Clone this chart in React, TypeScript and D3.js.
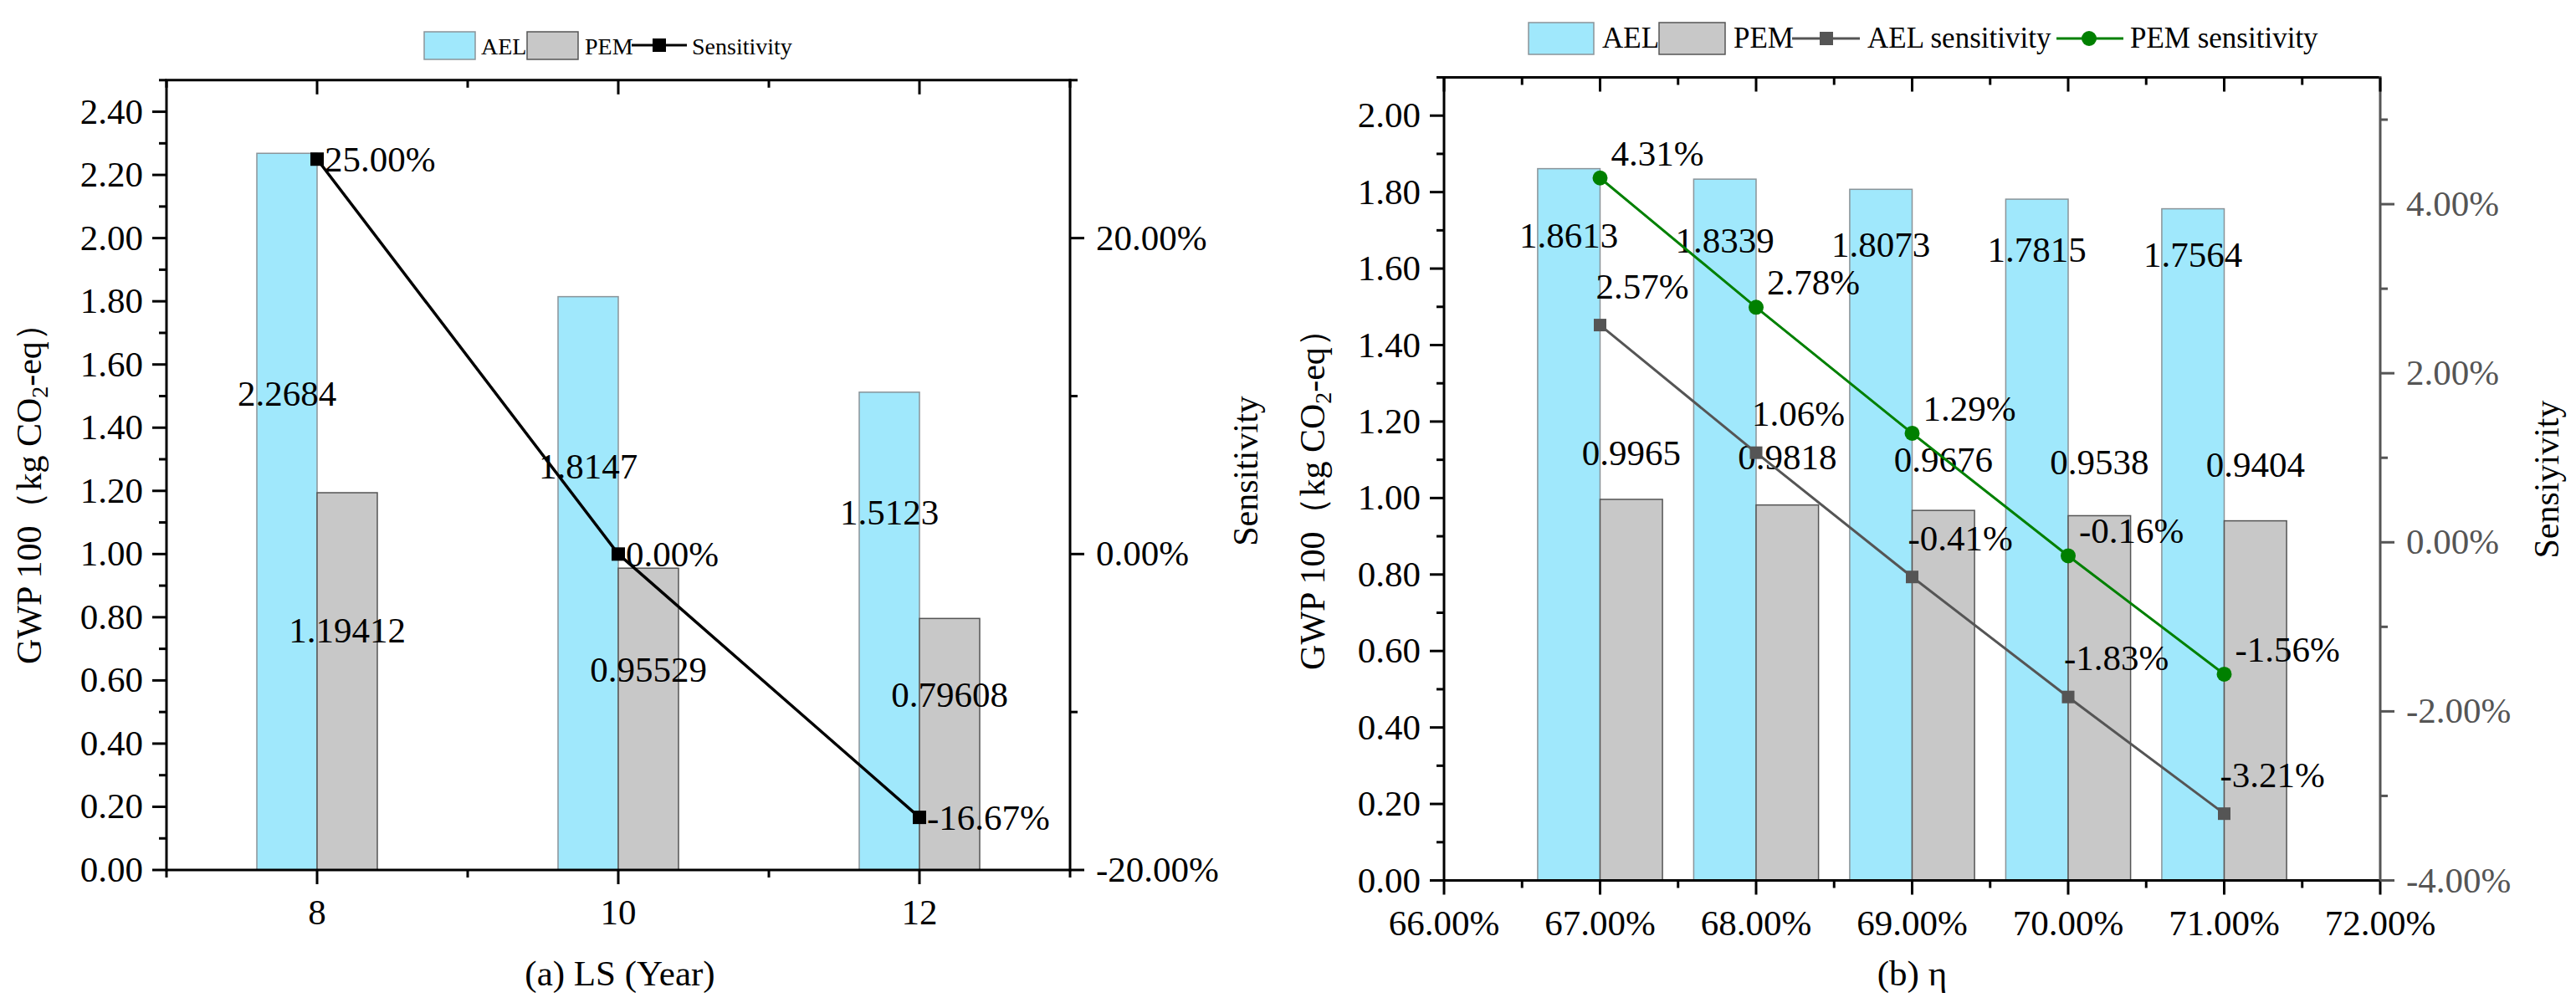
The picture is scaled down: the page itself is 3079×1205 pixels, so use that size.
import * as d3 from "d3"

// (a) service life LS
const lsYears = [8, 10, 12]
const lsAEL = [2.2684, 1.8147, 1.5123]
const lsPEM = [1.19412, 0.95529, 0.79608]
const lsSensitivity = [25.0, 0.0, -16.67]
// where the bar value labels sit (in GWP units)
const lsAELLabelAt = [1.51, 1.28, 1.133]
const lsPEMLabelAt = [0.76, 0.635, 0.556]
const lsYTicks = [0, 0.2, 0.4, 0.6, 0.8, 1.0, 1.2, 1.4, 1.6, 1.8, 2.0, 2.2, 2.4]
const lsY2Ticks = [-20, 0, 20]
const lsXTicks = [8, 10, 12]

// (b) efficiency eta
const etaValues = [67, 68, 69, 70, 71]
const etaAEL = [1.8613, 1.8339, 1.8073, 1.7815, 1.7564]
const etaPEM = [0.9965, 0.9818, 0.9676, 0.9538, 0.9404]
const etaAELSens = [2.57, 1.06, -0.41, -1.83, -3.21]
const etaPEMSens = [4.31, 2.78, 1.29, -0.16, -1.56]
const etaAELLabelAt = [1.688, 1.675, 1.664, 1.651, 1.638]
const etaPEMLabelAt = [1.119, 1.109, 1.101, 1.095, 1.088]
const etaYTicks = [0, 0.2, 0.4, 0.6, 0.8, 1.0, 1.2, 1.4, 1.6, 1.8, 2.0]
const etaY2Ticks = [-4, -2, 0, 2, 4]
const etaXTicks = [66, 67, 68, 69, 70, 71, 72]

const FONT = "'Liberation Serif', 'Times New Roman', serif"
const AEL_FILL = "#a0e8fc"
const PEM_FILL = "#c8c8c8"
const BAR_W = 0.4

function minorBetween(ticks: number[], extraTop?: number) {
  const out: number[] = []
  for (let i = 0; i < ticks.length - 1; i++) out.push((ticks[i] + ticks[i + 1]) / 2)
  if (extraTop !== undefined) out.push(extraTop)
  return out
}

function Frame({ x, y, y2, xTicks, xMinor, yTicks, yMinor, y2Ticks, y2Minor, rightColor, xFmt }: any) {
  const [x0, x1] = x.range()
  const [yb, yt] = y.range()
  return (
    <g>
      {/* top and bottom lines */}
      <line x1={x0 - 1.5} x2={x1} y1={yt} y2={yt} stroke="#000" strokeWidth={3} />
      <line x1={x0} x2={x1} y1={yb} y2={yb} stroke="#000" strokeWidth={3} />
      <line x1={x0} x2={x0} y1={yt} y2={yb + 1.5} stroke="#000" strokeWidth={3} />
      <line x1={x1} x2={x1} y1={yt - 1.5} y2={yb + 1.5} stroke={rightColor} strokeWidth={3} />

      {xTicks.map((t: number) => (
        <g key={"xt" + t}>
          <line x1={x(t)} x2={x(t)} y1={yb} y2={yb + 17} stroke="#000" strokeWidth={3} />
          <line x1={x(t)} x2={x(t)} y1={yt} y2={yt + 17} stroke="#000" strokeWidth={3} />
          <text x={x(t)} y={yb + 65} textAnchor="middle" fontSize={43}>
            {xFmt(t)}
          </text>
        </g>
      ))}
      {xMinor.map((t: number) => (
        <g key={"xm" + t}>
          <line x1={x(t)} x2={x(t)} y1={yb} y2={yb + 9} stroke="#000" strokeWidth={3} />
          <line x1={x(t)} x2={x(t)} y1={yt} y2={yt + 9} stroke="#000" strokeWidth={3} />
        </g>
      ))}

      {yTicks.map((t: number) => (
        <g key={"yt" + t}>
          <line x1={x0 - 17} x2={x0} y1={y(t)} y2={y(t)} stroke="#000" strokeWidth={3} />
          <text x={x0 - 28} y={y(t) + 14} textAnchor="end" fontSize={43}>
            {t.toFixed(2)}
          </text>
        </g>
      ))}
      {yMinor.map((t: number) => (
        <line key={"ym" + t} x1={x0 - 9} x2={x0} y1={y(t)} y2={y(t)} stroke="#000" strokeWidth={3} />
      ))}

      {y2Ticks.map((t: number) => (
        <g key={"y2t" + t}>
          <line x1={x1} x2={x1 + 17} y1={y2(t)} y2={y2(t)} stroke={rightColor} strokeWidth={3} />
          <text x={x1 + 31} y={y2(t) + 14} fontSize={43} fill={rightColor}>
            {t.toFixed(2) + "%"}
          </text>
        </g>
      ))}
      {y2Minor.map((t: number) => (
        <line key={"y2m" + t} x1={x1} x2={x1 + 9} y1={y2(t)} y2={y2(t)} stroke={rightColor} strokeWidth={3} />
      ))}
    </g>
  )
}

function Bars({ x, y, cats, ael, pem }: any) {
  return (
    <g>
      {cats.map((c: number, i: number) => (
        <g key={c}>
          <rect
            x={x(c - BAR_W)}
            y={y(ael[i])}
            width={x(c) - x(c - BAR_W)}
            height={y(0) - y(ael[i])}
            fill={AEL_FILL}
            stroke="#8a9499"
            strokeWidth={1.5}
          />
          <rect
            x={x(c)}
            y={y(pem[i])}
            width={x(c + BAR_W) - x(c)}
            height={y(0) - y(pem[i])}
            fill={PEM_FILL}
            stroke="#555"
            strokeWidth={1.5}
          />
        </g>
      ))}
    </g>
  )
}

function YTitle({ cx, cy }: { cx: number; cy: number }) {
  return (
    <text transform={`translate(${cx},${cy}) rotate(-90)`} textAnchor="middle" fontSize={42}>
      GWP 100（kg CO
      <tspan fontSize={28} dy={8}>
        2
      </tspan>
      <tspan dy={-8}>-eq）</tspan>
    </text>
  )
}

function PanelA() {
  const x = d3.scaleLinear().domain([7, 13]).range([199, 1279])
  const y = d3.scaleLinear().domain([0, 2.5]).range([1040, 95.8])
  const y2 = d3.scaleLinear().domain([-20, 30]).range([1040, 95.8])
  const line = d3
    .line<number>()
    .x((_, i) => x(lsYears[i]))
    .y((d) => y2(d))

  return (
    <g>
      <Bars x={x} y={y} cats={lsYears} ael={lsAEL} pem={lsPEM} />
      <path d={line(lsSensitivity) || ""} fill="none" stroke="#000" strokeWidth={3.5} />
      {lsSensitivity.map((s, i) => (
        <g key={i}>
          <rect x={x(lsYears[i]) - 8} y={y2(s) - 8} width={16} height={16} fill="#000" />
          <text x={x(lsYears[i]) + 9} y={y2(s) + 15} fontSize={43}>
            {s.toFixed(2) + "%"}
          </text>
        </g>
      ))}
      {lsYears.map((c, i) => (
        <g key={"lab" + c}>
          <text x={x(c - BAR_W / 2)} y={y(lsAELLabelAt[i]) + 15} textAnchor="middle" fontSize={43}>
            {String(lsAEL[i])}
          </text>
          <text x={x(c + BAR_W / 2)} y={y(lsPEMLabelAt[i]) + 15} textAnchor="middle" fontSize={43}>
            {String(lsPEM[i])}
          </text>
        </g>
      ))}
      <Frame
        x={x}
        y={y}
        y2={y2}
        xTicks={lsXTicks}
        xMinor={[7, 9, 11, 13]}
        yTicks={lsYTicks}
        yMinor={minorBetween(lsYTicks, 2.5)}
        y2Ticks={lsY2Ticks}
        y2Minor={[-10, 10, 30]}
        rightColor="#000"
        xFmt={(t: number) => String(t)}
      />
      <YTitle cx={49} cy={580} />
      <text transform="translate(1503,563) rotate(-90)" textAnchor="middle" fontSize={42}>
        Sensitivity
      </text>
      <text x={741} y={1178} textAnchor="middle" fontSize={43}>
        (a) LS (Year)
      </text>

      {/* legend */}
      <g fontSize={28}>
        <rect x={507} y={38} width={61} height={33} fill={AEL_FILL} stroke="#8a9499" strokeWidth={1.5} />
        <text x={575} y={65}>AEL</text>
        <rect x={630} y={38} width={61} height={33} fill={PEM_FILL} stroke="#555" strokeWidth={1.5} />
        <text x={699} y={65}>PEM</text>
        <line x1={755} x2={821} y1={54} y2={54} stroke="#000" strokeWidth={3} />
        <rect x={780} y={46} width={16} height={16} fill="#000" />
        <text x={827} y={65}>Sensitivity</text>
      </g>
    </g>
  )
}

function PanelB() {
  const x = d3.scaleLinear().domain([66, 72]).range([1726, 2845])
  const y = d3.scaleLinear().domain([0, 2.1]).range([1052.5, 92.5])
  const y2 = d3.scaleLinear().domain([-4, 5.5]).range([1052.5, 92.5])
  const line = d3
    .line<number>()
    .x((_, i) => x(etaValues[i]))
    .y((d) => y2(d))

  return (
    <g>
      <Bars x={x} y={y} cats={etaValues} ael={etaAEL} pem={etaPEM} />
      {etaValues.map((c, i) => (
        <g key={"lab" + c}>
          <text x={x(c - BAR_W / 2)} y={y(etaAELLabelAt[i]) + 15} textAnchor="middle" fontSize={43}>
            {String(etaAEL[i])}
          </text>
          <text x={x(c + BAR_W / 2)} y={y(etaPEMLabelAt[i]) + 15} textAnchor="middle" fontSize={43}>
            {String(etaPEM[i])}
          </text>
        </g>
      ))}
      <path d={line(etaAELSens) || ""} fill="none" stroke="#555" strokeWidth={3} />
      <path d={line(etaPEMSens) || ""} fill="none" stroke="#008000" strokeWidth={3} />
      {etaAELSens.map((s, i) => (
        <g key={"a" + i}>
          <rect x={x(etaValues[i]) - 7.5} y={y2(s) - 7.5} width={15} height={15} fill="#555" />
          <text x={x(etaValues[i]) - 5} y={y2(s) - 47 + 15} fontSize={43}>
            {s.toFixed(2) + "%"}
          </text>
        </g>
      ))}
      {etaPEMSens.map((s, i) => (
        <g key={"p" + i}>
          <circle cx={x(etaValues[i])} cy={y2(s)} r={9} fill="#008000" />
          <text x={x(etaValues[i]) + 13} y={y2(s) - 30 + 15} fontSize={43}>
            {s.toFixed(2) + "%"}
          </text>
        </g>
      ))}
      <Frame
        x={x}
        y={y}
        y2={y2}
        xTicks={etaXTicks}
        xMinor={minorBetween(etaXTicks)}
        yTicks={etaYTicks}
        yMinor={minorBetween(etaYTicks, 2.1)}
        y2Ticks={etaY2Ticks}
        y2Minor={[-3, -1, 1, 3, 5]}
        rightColor="#555"
        xFmt={(t: number) => t.toFixed(2) + "%"}
      />
      <YTitle cx={1583} cy={587} />
      <text transform="translate(3058,573) rotate(-90)" textAnchor="middle" fontSize={42}>
        Sensiyivity
      </text>
      <text x={x(69)} y={1178} textAnchor="middle" fontSize={43}>
        (b) η
      </text>

      {/* legend */}
      <g fontSize={35}>
        <rect x={1827} y={27} width={78} height={38} fill={AEL_FILL} stroke="#8a9499" strokeWidth={1.5} />
        <text x={1915} y={57}>AEL</text>
        <rect x={1983} y={27} width={79} height={38} fill={PEM_FILL} stroke="#555" strokeWidth={1.5} />
        <text x={2072} y={57}>PEM</text>
        <line x1={2142} x2={2223} y1={46} y2={46} stroke="#555" strokeWidth={3} />
        <rect x={2175} y={38} width={16} height={16} fill="#555" />
        <text x={2232} y={57}>AEL sensitivity</text>
        <line x1={2458} x2={2538} y1={46} y2={46} stroke="#008000" strokeWidth={3} />
        <circle cx={2497} cy={46} r={9} fill="#008000" />
        <text x={2546} y={57}>PEM sensitivity</text>
      </g>
    </g>
  )
}

export default function App() {
  return (
    <svg
      width={3079}
      height={1205}
      style={{ position: "absolute", left: 0, top: 0, background: "#fff" }}
      fontFamily={FONT}
    >
      <rect width={3079} height={1205} fill="#fff" />
      <PanelA />
      <PanelB />
    </svg>
  )
}
